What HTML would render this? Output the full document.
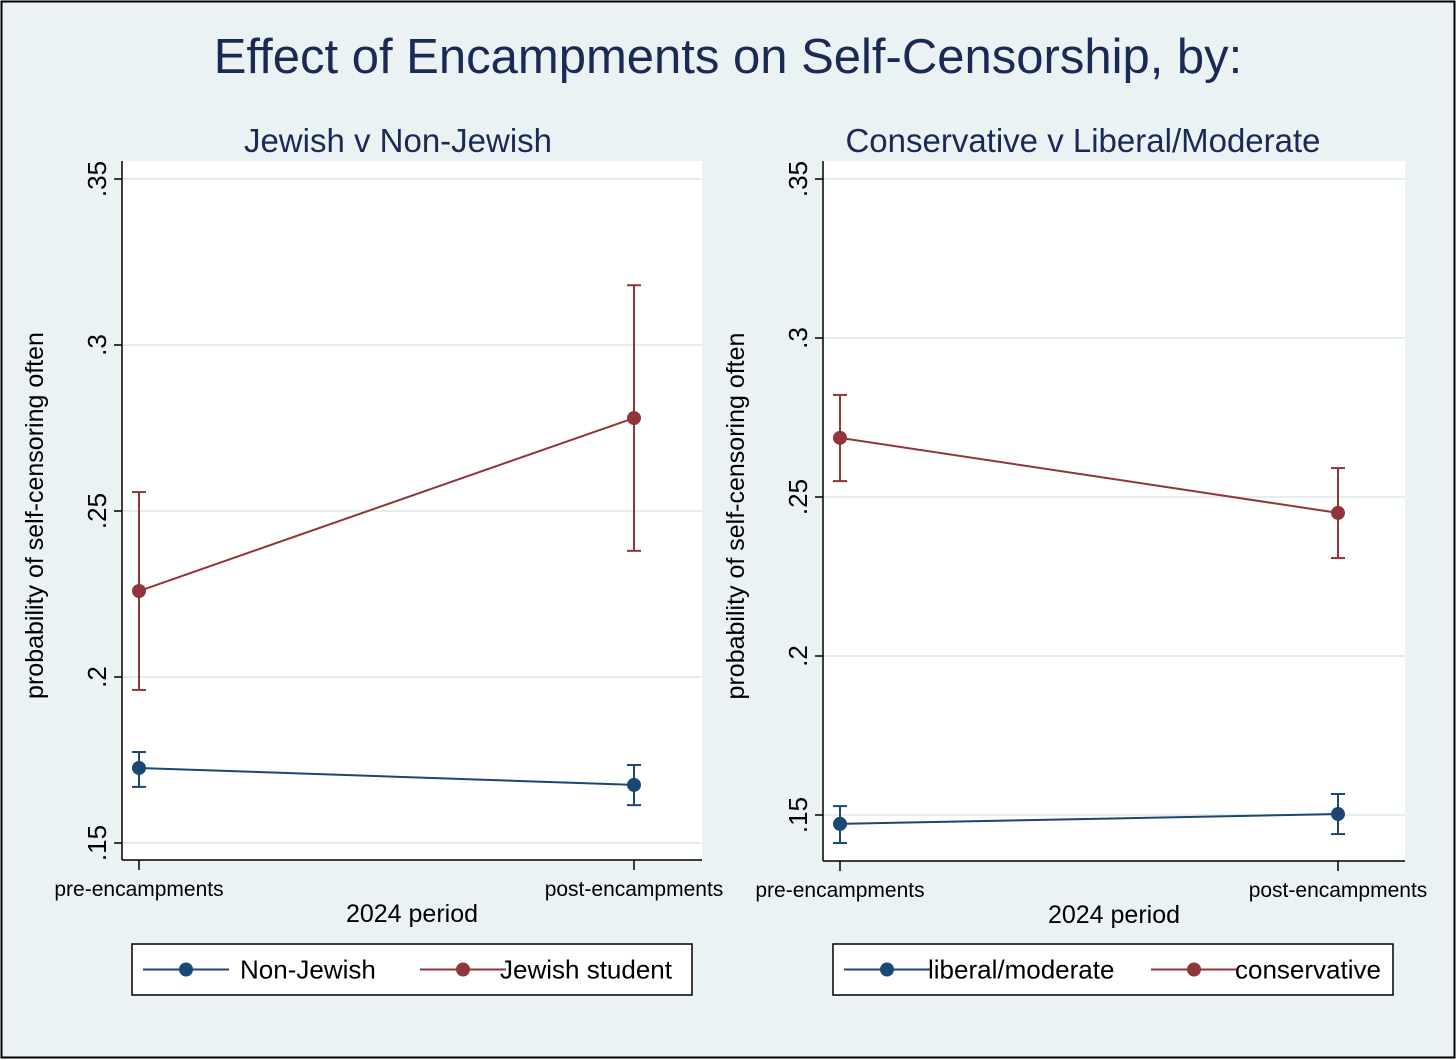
<!DOCTYPE html>
<html><head><meta charset="utf-8"><style>
body{margin:0;background:#fff}
svg{display:block;font-family:"Liberation Sans",Arial,sans-serif}
</style></head><body>
<svg id="chart" width="1456" height="1060" viewBox="0 0 1456 1060">
<rect x="1.5" y="1.5" width="1453" height="1056" fill="#eaf2f3" stroke="#000" stroke-width="2"/>
<text x="728" y="73" font-size="49" fill="#1a2a55" text-anchor="middle">Effect of Encampments on Self-Censorship, by:</text>
<g id="panels"></g>
</svg>
<script>
const categories = ["pre-encampments","post-encampments"];
const yTicks = [0.15,0.2,0.25,0.3,0.35];
const yTickLabels = [".15",".2",".25",".3",".35"];
const p1Titles = ["Jewish v Non-Jewish"];
const p1SeriesNames = ["Non-Jewish","Jewish student"];
const p1NonJewish = [0.1726,0.1675];
const p1NonJewishLo = [0.1669,0.1614];
const p1NonJewishHi = [0.1774,0.1735];
const p1Jewish = [0.2259,0.2780];
const p1JewishLo = [0.1961,0.2380];
const p1JewishHi = [0.2557,0.3180];
const p2Titles = ["Conservative v Liberal/Moderate"];
const p2SeriesNames = ["liberal/moderate","conservative"];
const p2Liberal = [0.1472,0.1503];
const p2LiberalLo = [0.1412,0.1440];
const p2LiberalHi = [0.1528,0.1566];
const p2Conservative = [0.2686,0.2450];
const p2ConservativeLo = [0.2550,0.2308];
const p2ConservativeHi = [0.2821,0.2591];

const NS="http://www.w3.org/2000/svg";
const root=document.getElementById('panels');
function mk(tag,attrs,parent,text){const e=document.createElementNS(NS,tag);for(const k in attrs)e.setAttribute(k,attrs[k]);if(text!==undefined)e.textContent=text;(parent||root).appendChild(e);return e;}
const BLUE="#1a4773", RED="#90353b";

function panel(cfg){
  const g=mk('g',{});
  
  
  const {L,R,T,B,y35,y15,xPre,xPost}=cfg;
  const ys=v=>y15+(v-0.15)/(0.35-0.15)*(y35-y15);
  const xs=i=>i===0?xPre:xPost;
  const bg=mk('rect',{x:L,y:T,width:R-L,height:B-T,fill:'#fff'},g);
  
  
  const t=mk('text',{x:(L+R)/2-cfg.titleShift,y:T-9,'font-size':33,fill:'#1a2a55','text-anchor':'middle'},g,cfg.title);
  
  
  yTicks.forEach((v,i)=>{
    const y=ys(v);
    const gl=mk('line',{x1:L,x2:R,y1:y,y2:y,stroke:'#e3eeee','stroke-width':2},g);
    
    
    mk('line',{x1:L-8,x2:L,y1:y,y2:y,stroke:'#000','stroke-width':1.5},g);
    const tl=mk('text',{x:0,y:0,'font-size':26,fill:'#000','text-anchor':'middle',transform:`translate(${L-16},${y}) rotate(-90)`},g,yTickLabels[i]);
    
    
  });
  mk('line',{x1:L,x2:L,y1:T,y2:B,stroke:'#000','stroke-width':1.5},g);
  mk('line',{x1:L,x2:R,y1:B,y2:B,stroke:'#000','stroke-width':1.5},g);
  categories.forEach((c,i)=>{
    const x=xs(i);
    mk('line',{x1:x,x2:x,y1:B,y2:B+10,stroke:'#000','stroke-width':1.5},g);
    const xl=mk('text',{x:x,y:B+36,'font-size':21,fill:'#000','text-anchor':'middle'},g,c);
    
    
  });
  const xt=mk('text',{x:(L+R)/2,y:B+62,'font-size':25,fill:'#000','text-anchor':'middle'},g,'2024 period');
  
  
  const yt=mk('text',{x:0,y:0,'font-size':25,fill:'#000','text-anchor':'middle',transform:`translate(${L-79},${(T+B)/2+5}) rotate(-90)`},g,'probability of self-censoring often');
  
  
  cfg.series.forEach(s=>{
    const sg=mk('g',{},g);
    
    
    mk('polyline',{points:s.v.map((v,i)=>xs(i)+','+ys(v)).join(' '),fill:'none',stroke:s.c,'stroke-width':2},sg);
    s.v.forEach((v,i)=>{
      const x=xs(i);
      mk('line',{x1:x,x2:x,y1:ys(s.lo[i]),y2:ys(s.hi[i]),stroke:s.c,'stroke-width':2},sg);
      mk('line',{x1:x-7,x2:x+7,y1:ys(s.lo[i]),y2:ys(s.lo[i]),stroke:s.c,'stroke-width':2},sg);
      mk('line',{x1:x-7,x2:x+7,y1:ys(s.hi[i]),y2:ys(s.hi[i]),stroke:s.c,'stroke-width':2},sg);
      const pt=mk('circle',{cx:x,cy:ys(v),r:7,fill:s.c},sg);
      
      
    });
  });
  const lg=mk('g',{},g);
  
  
  const lb=cfg.legend;
  mk('rect',{x:lb.x,y:lb.y,width:lb.w,height:lb.h,fill:'#fff',stroke:'#000','stroke-width':1.5},lg);
  cfg.series.forEach((s,i)=>{
    const lx=lb.x+lb.offs[i], ly=lb.y+lb.h/2;
    const e=mk('g',{},lg);
    
    
    mk('line',{x1:lx,x2:lx+86,y1:ly,y2:ly,stroke:s.c,'stroke-width':2},e);
    mk('circle',{cx:lx+43,cy:ly,r:7,fill:s.c},e);
    mk('text',{x:lx+lb.tOff[i],y:ly+9,'font-size':26,fill:'#000'},e,s.name);
  });
}
panel({name:'panel-jewish',title:p1Titles[0],titleShift:14,L:122,R:702,T:161,B:860,y35:179,y15:843,xPre:139,xPost:634,
 series:[{key:'non-jewish',name:p1SeriesNames[0],v:p1NonJewish,lo:p1NonJewishLo,hi:p1NonJewishHi,c:BLUE},
         {key:'jewish',name:p1SeriesNames[1],v:p1Jewish,lo:p1JewishLo,hi:p1JewishHi,c:RED}],
 legend:{x:132,y:944,w:560,h:51,offs:[11,288],tOff:[97,80]}});
panel({name:'panel-conservative',title:p2Titles[0],titleShift:31,L:823,R:1405,T:161,B:861,y35:179,y15:815,xPre:840,xPost:1338,
 series:[{key:'liberal',name:p2SeriesNames[0],v:p2Liberal,lo:p2LiberalLo,hi:p2LiberalHi,c:BLUE},
         {key:'conservative',name:p2SeriesNames[1],v:p2Conservative,lo:p2ConservativeLo,hi:p2ConservativeHi,c:RED}],
 legend:{x:833,y:944,w:560,h:51,offs:[11,318],tOff:[84,84]}});
</script>
</body></html>
